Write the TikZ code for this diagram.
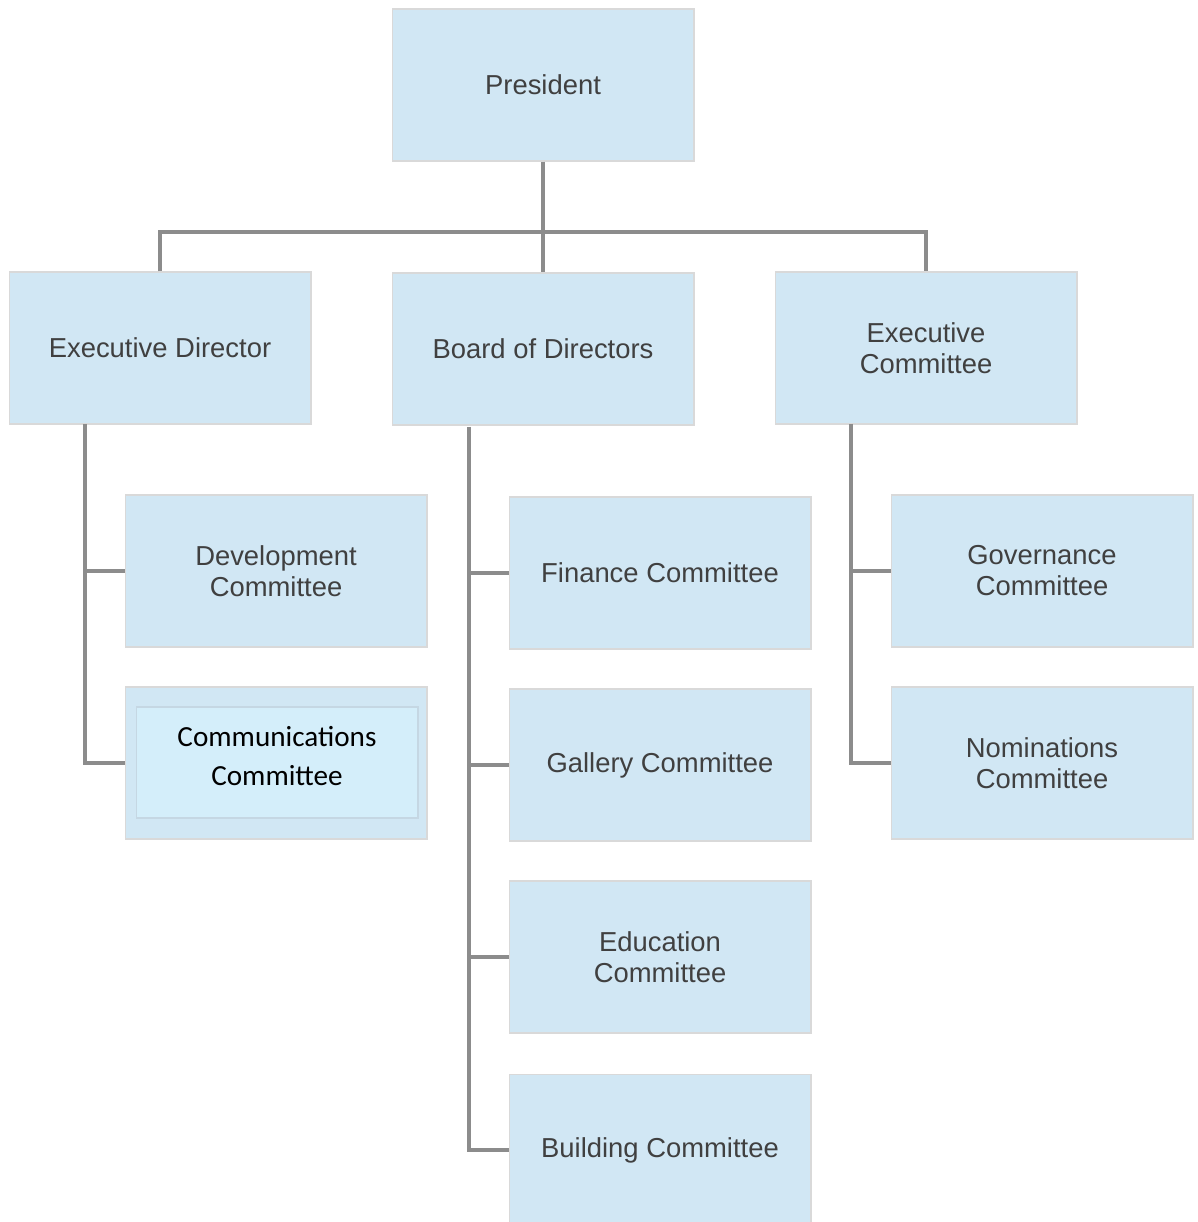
\documentclass[tikz,border=0pt]{standalone}
\usepackage{fontspec}
\setmainfont{Liberation Sans}
\newfontfamily\calibrifont{Carlito}
\definecolor{boxblue}{HTML}{D1E7F4}
\definecolor{innerblue}{HTML}{D4EEFA}
\definecolor{linegray}{HTML}{8C8C8C}
\definecolor{textgray}{HTML}{404040}
\tikzset{
  orgbox/.style={draw=gray!30, line width=.6pt, fill=boxblue, minimum width=6.04cm,
    minimum height=3.04cm, inner sep=0pt, align=center, text=textgray,
    font=\fontsize{15.6}{17.6}\selectfont},
  innerbox/.style={draw=gray!15!boxblue, line width=.6pt, fill=innerblue, minimum width=5.64cm,
    minimum height=2.22cm, inner sep=0pt},
  innertext/.style={align=center, text=black, inner sep=0pt,
    font=\calibrifont\fontsize{16.6}{22.2}\selectfont},
  link/.style={draw=linegray, line width=1.9pt},
}

\begin{document}
\begin{tikzpicture}[x=0.02cm, y=-0.02cm]
  \useasboundingbox (0,0) rectangle (1197,1222);
  % top
  \node[orgbox] (pres) at (543,85) {President};
  % second row
  \node[orgbox] (ed) at (160,348) {Executive Director};
  \node[orgbox] (bod) at (543,349) {Board of Directors};
  \node[orgbox] (ec) at (926,348) {Executive\\Committee};
  % committees
  \node[orgbox] (dev) at (276,571) {Development\\Committee};
  \node[orgbox] (comm) at (276,763) {};
  \node[innerbox] (commbox) at (277,762.5) {};
  \node[innertext] (commtext) at (277,756) {Communications\\Committee};
  \node[orgbox] (fin) at (660,573) {Finance Committee};
  \node[orgbox] (gal) at (660,765) {Gallery Committee};
  \node[orgbox] (edu) at (660,957) {Education\\Committee};
  \node[orgbox] (bld) at (660,1150) {Building Committee};
  \node[orgbox] (gov) at (1042,571) {Governance\\Committee};
  \node[orgbox] (nom) at (1042,763) {Nominations\\Committee};
  % lines
  \coordinate (bus) at (543,232);
  \draw[link] (pres) -- (bod);
  \draw[link] (ed.north) |- (bus) -| (ec.north);
  \coordinate (edt) at (85,424);
  \draw[link] (edt) |- (comm.west);
  \draw[link] (edt |- dev.west) -- (dev.west);
  \coordinate (bodt) at (469,427);
  \draw[link] (bodt) |- (bld.west);
  \draw[link] (bodt |- fin.west) -- (fin.west);
  \draw[link] (bodt |- gal.west) -- (gal.west);
  \draw[link] (bodt |- edu.west) -- (edu.west);
  \coordinate (ect) at (851,424);
  \draw[link] (ect) |- (nom.west);
  \draw[link] (ect |- gov.west) -- (gov.west);
\end{tikzpicture}
\end{document}
